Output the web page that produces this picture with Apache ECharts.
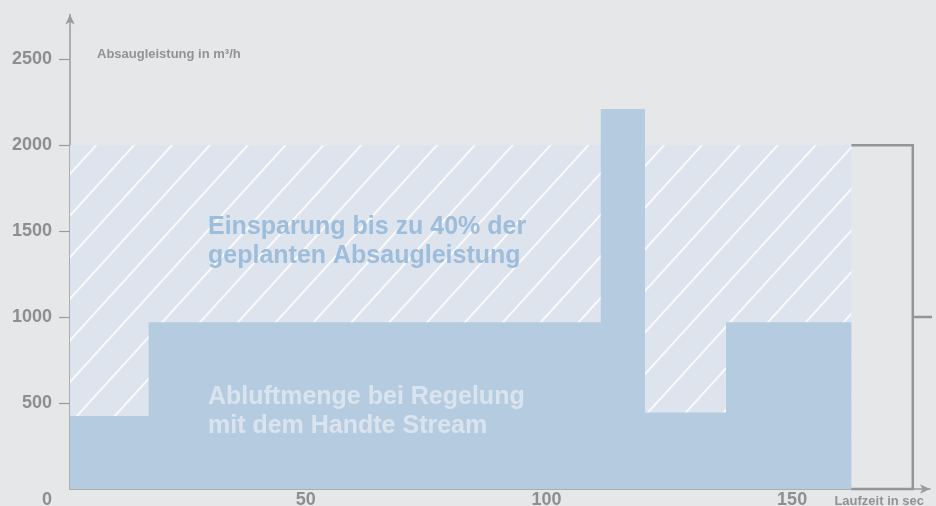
<!DOCTYPE html>
<html>
<head>
<meta charset="utf-8">
<script src="https://cdn.jsdelivr.net/npm/echarts@6/dist/echarts.min.js"></script>
<style>
html, body { margin: 0; padding: 0; background: #e6e7e8; }
#chart { width: 936px; height: 506px; }
</style>
</head>
<body>
<div id="chart"></div>
<script>
// Laufzeit (sec), ab der der jeweilige Absaugwert gilt
var stepTimes = [0, 16, 108, 117, 133.5];
// Absaugleistung in m³/h mit Regelung
var stepFlow = [425, 970, 2210, 445, 970];
var endTime = 159;
// geplante Absaugleistung ohne Regelung
var plannedFlow = 2000;
var xTicks = [0, 50, 100, 150];
var yTicks = [500, 1000, 1500, 2000, 2500];
// Klammer rechts
var bracketX = 171.5;
var bracketMid = 1000;

var FONT = '"Liberation Sans", Arial, Helvetica, sans-serif';
var GREY = '#8e8e8e';
var AXIS = '#9b9b9b';

function makeHatch() {
  var c = document.createElement('canvas');
  c.width = 8;
  c.height = 28;
  var g = c.getContext('2d');
  g.fillStyle = '#dde4ee';
  g.fillRect(0, 0, 8, 28);
  g.fillStyle = '#ffffff';
  g.fillRect(0, 0, 8, 1.6);
  return c;
}

var stepData = stepTimes.map(function (t, i) { return [t, stepFlow[i]]; });
stepData.push([endTime, stepFlow[stepFlow.length - 1]]);

var myChart = echarts.init(document.getElementById('chart'));
var option = {
  backgroundColor: '#e6e7e8',
  animation: false,
  grid: { left: 70, right: 6, top: 14.5, bottom: 17, outerBoundsMode: 'none' },
  xAxis: {
    type: 'value',
    min: 0,
    max: 175,
    axisLine: {
      show: true,
      symbol: ['none', 'arrow'],
      symbolSize: [7, 10],
      lineStyle: { color: AXIS, width: 1.5 }
    },
    axisTick: { show: false },
    splitLine: { show: false },
    axisLabel: {
      customValues: xTicks,
      align: 'right',
      margin: 2,
      color: GREY,
      fontSize: 18,
      fontWeight: 'bold',
      fontFamily: FONT,
      formatter: function (v) { return v === 0 ? '{o|0}' : String(v); },
      rich: {
        o: { padding: [0, 18, 0, 0], color: GREY, fontSize: 18, fontWeight: 'bold', fontFamily: FONT }
      }
    }
  },
  yAxis: {
    type: 'value',
    min: 0,
    max: 2760,
    axisLine: {
      show: true,
      symbol: ['none', 'arrow'],
      symbolSize: [7, 10],
      lineStyle: { color: AXIS, width: 1.5 }
    },
    axisTick: {
      show: true,
      customValues: yTicks,
      length: 11,
      lineStyle: { color: AXIS, width: 1.2 }
    },
    splitLine: { show: false },
    axisLabel: {
      customValues: yTicks,
      margin: 18,
      color: GREY,
      fontSize: 18,
      fontWeight: 'bold',
      fontFamily: FONT,
      formatter: function (v) { return String(v); }
    }
  },
  series: [
    {
      // schraffierte Fläche: geplante Absaugleistung
      type: 'line',
      z: 1,
      silent: true,
      symbol: 'none',
      lineStyle: { opacity: 0 },
      areaStyle: {
        opacity: 1,
        color: { image: makeHatch(), repeat: 'repeat', rotation: -47.7 * Math.PI / 180 }
      },
      data: [[0, plannedFlow], [endTime, plannedFlow]]
    },
    {
      // Abluftmenge mit Regelung
      type: 'line',
      z: 2,
      silent: true,
      step: 'end',
      symbol: 'none',
      lineStyle: { opacity: 0 },
      areaStyle: { opacity: 1, color: '#b5cbe0' },
      data: stepData
    },
    {
      type: 'line',
      z: 3,
      silent: true,
      clip: false,
      symbol: 'none',
      lineStyle: { color: '#959595', width: 2.5, join: 'miter' },
      data: [[endTime, plannedFlow], [bracketX, plannedFlow], [bracketX, 0], [endTime, 0]]
    },
    {
      type: 'line',
      z: 3,
      silent: true,
      clip: false,
      symbol: 'none',
      lineStyle: { color: '#959595', width: 2.5 },
      data: [[bracketX, bracketMid], [181, bracketMid]]
    }
  ],
  graphic: [
    {
      type: 'text', left: 97, top: 47.5, z: 10,
      style: { text: 'Absaugleistung in m³/h', fill: '#929292', fontSize: 13, fontWeight: 'bold', fontFamily: FONT }
    },
    {
      type: 'text', right: 12, top: 495, z: 10,
      style: { text: 'Laufzeit in sec', fill: '#929292', fontSize: 13, fontWeight: 'bold', fontFamily: FONT }
    },
    {
      type: 'text', left: 208, top: 213, z: 10,
      style: {
        text: 'Einsparung bis zu 40% der\ngeplanten Absaugleistung',
        fill: '#9dbdda', fontSize: 25, lineHeight: 29, fontWeight: 'bold', fontFamily: FONT
      }
    },
    {
      type: 'text', left: 208, top: 383, z: 10,
      style: {
        text: 'Abluftmenge bei Regelung\nmit dem Handte Stream',
        fill: '#dae4ef', fontSize: 25, lineHeight: 29, fontWeight: 'bold', fontFamily: FONT
      }
    }
  ]
};
myChart.setOption(option);
</script>
</body>
</html>
